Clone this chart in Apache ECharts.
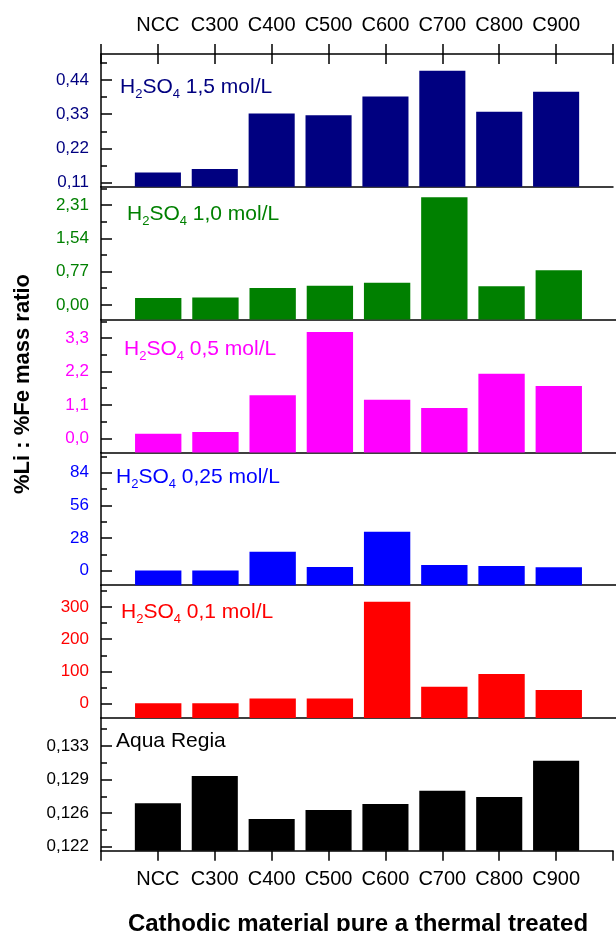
<!DOCTYPE html>
<html>
<head>
<meta charset="utf-8">
<script src="https://cdn.jsdelivr.net/npm/echarts@6/dist/echarts.min.js"></script>
<style>
html,body{margin:0;padding:0;background:#fff;}
#chart{width:616px;height:931px;}
</style>
</head>
<body>
<div id="chart"></div>
<script>
// ---- data ----
const categories = ['NCC', 'C300', 'C400', 'C500', 'C600', 'C700', 'C800', 'C900'];

const h2so4_15 = [0.143, 0.154, 0.332, 0.327, 0.387, 0.470, 0.338, 0.402];
const h2so4_10 = [0.16, 0.17, 0.39, 0.44, 0.51, 2.49, 0.43, 0.80];
const h2so4_05 = [0.15, 0.21, 1.42, 3.50, 1.27, 1.00, 2.13, 1.72];
const h2so4_025 = [0.2, 0.3, 16.3, 3.2, 33.4, 4.9, 4.0, 2.9];
const h2so4_01 = [1, 1, 15.7, 15.7, 316.6, 52, 92, 41.7];
const aquaRegia = [0.12674, 0.12973, 0.12503, 0.12601, 0.12667, 0.12812, 0.12743, 0.13140];

// tick labels (major) and minor ticks per panel
const ticks15 = [0.11, 0.22, 0.33, 0.44];
const minor15 = [0.165, 0.275, 0.385, 0.495];
const ticks10 = [0, 0.77, 1.54, 2.31];
const minor10 = [0.385, 1.155, 1.925, 2.695];
const ticks05 = [0, 1.1, 2.2, 3.3];
const minor05 = [0.55, 1.65, 2.75, 3.85];
const ticks025 = [0, 28, 56, 84];
const minor025 = [14, 42, 70, 98];
const ticks01 = [0, 100, 200, 300];
const minor01 = [50, 150, 250, 350];
const ticksAR = [0.122, 0.122 + 0.011 / 3, 0.122 + 0.022 / 3, 0.133];
const minorAR = [0.122 + 0.011 / 6, 0.122 + 0.011 / 2, 0.122 + 0.055 / 6, 0.133 + 0.011 / 6];

const yTitle = '%Li : %Fe mass ratio';
const xTitle = 'Cathodic material pure a thermal treated';

// ---- panel styling ----
const FONT = "'Liberation Sans', Arial, sans-serif";
const panels = [
  {vals: h2so4_15, ticks: ticks15, minor: minor15, min: 0.0968, max: 0.5235, dec: 2, color: '#000080', labelColor: '#000080', sub: ['H', '2', 'SO', '4', ' 1,5 mol/L'], tx: 120, ty: 77},
  {vals: h2so4_10, ticks: ticks10, minor: minor10, min: -0.34, max: 2.73, dec: 2, color: '#008000', labelColor: '#008000', sub: ['H', '2', 'SO', '4', ' 1,0 mol/L'], tx: 127, ty: 203.5},
  {vals: h2so4_05, ticks: ticks05, minor: minor05, min: -0.465, max: 3.91, dec: 1, color: '#FF00FF', labelColor: '#FF00FF', sub: ['H', '2', 'SO', '4', ' 0,5 mol/L'], tx: 124, ty: 338.5},
  {vals: h2so4_025, ticks: ticks025, minor: minor025, min: -12.4, max: 101.4, dec: 0, color: '#0000FF', labelColor: '#0000FF', sub: ['H', '2', 'SO', '4', ' 0,25 mol/L'], tx: 116, ty: 467},
  {vals: h2so4_01, ticks: ticks01, minor: minor01, min: -45, max: 368, dec: 0, color: '#FF0000', labelColor: '#FF0000', sub: ['H', '2', 'SO', '4', ' 0,1 mol/L'], tx: 121, ty: 602},
  {vals: aquaRegia, ticks: ticksAR, minor: minorAR, min: 0.12155, max: 0.13606, dec: 3, color: '#000000', labelColor: '#000000', sub: ['Aqua Regia'], tx: 116, ty: 730.5}
];

const GRID_TOP = 54, GRID_H = 132.8, GRID_LEFT = 101, GRID_W = 522;
const cats10 = [''].concat(categories, ['']);
const pad = arr => [null].concat(arr, [null]);
const AX = {color: '#000', width: 1.5};

const grid = [], xAxis = [], yAxis = [], series = [], graphic = [];

panels.forEach((p, i) => {
  grid.push({left: GRID_LEFT, width: GRID_W, top: GRID_TOP + i * GRID_H, height: GRID_H});
  const last = i === panels.length - 1;
  xAxis.push({
    gridIndex: i, type: 'category', data: cats10, boundaryGap: false, position: 'bottom',
    axisLine: {show: true, onZero: false, lineStyle: AX},
    axisTick: {show: last, interval: 0, length: 10, lineStyle: AX},
    axisLabel: {show: last, interval: 0, margin: 19, fontSize: 20, fontFamily: FONT, color: '#000'},
    splitLine: {show: false}
  });
  const fmt = v => Number(v).toFixed(p.dec).replace('.', ',');
  yAxis.push({
    gridIndex: i, type: 'value', min: p.min, max: p.max, position: 'left',
    axisLine: {show: true, onZero: false, lineStyle: AX},
    axisTick: {show: true, inside: true, length: 11, customValues: p.ticks, lineStyle: AX},
    axisLabel: {show: true, customValues: p.ticks, formatter: fmt, margin: 12, fontSize: 17, fontFamily: FONT, color: p.labelColor},
    splitLine: {show: false}
  });
  yAxis.push({
    gridIndex: i, type: 'value', min: p.min, max: p.max, position: 'left',
    axisLine: {show: false},
    axisTick: {show: true, inside: true, length: 6, customValues: p.minor, lineStyle: AX},
    axisLabel: {show: false},
    splitLine: {show: false}
  });
  if (p.min < 0) {
    // Origin-style baseline: invisible base up to the axis bottom, visible bar stacked from there
    series.push({
      type: 'bar', xAxisIndex: i, yAxisIndex: 2 * i, data: pad(p.vals.map(() => p.min)), barWidth: '81%',
      stack: 's' + i, stackStrategy: 'all', itemStyle: {color: 'rgba(0,0,0,0)'}, clip: true, silent: true
    });
    series.push({
      type: 'bar', xAxisIndex: i, yAxisIndex: 2 * i, data: pad(p.vals.map(v => v - p.min)), barWidth: '81%',
      stack: 's' + i, stackStrategy: 'all', itemStyle: {color: p.color}, clip: true, silent: true
    });
  } else {
    series.push({
      type: 'bar', xAxisIndex: i, yAxisIndex: 2 * i, data: pad(p.vals), barWidth: '81%',
      itemStyle: {color: p.color}, clip: true, silent: true
    });
  }
  // panel annotation
  let txt = '';
  p.sub.forEach((s, k) => { txt += (k % 2 === 1 ? '{s|' : '{n|') + s + '}'; });
  graphic.push({
    type: 'text', x: p.tx, y: p.ty, silent: true,
    style: {
      text: txt, align: 'left', verticalAlign: 'top',
      rich: {
        n: {fontSize: 21, fontFamily: FONT, fill: p.color, lineHeight: 24, verticalAlign: 'top'},
        s: {fontSize: 13, fontFamily: FONT, fill: p.color, lineHeight: 13, padding: [14, 0, 0, 0], verticalAlign: 'bottom'}
      }
    }
  });
});

// top category axis (labels + crossing ticks)
xAxis.push({
  gridIndex: 0, type: 'category', data: cats10, boundaryGap: false, position: 'top',
  axisLine: {show: true, onZero: false, lineStyle: AX},
  axisTick: {show: true, interval: 0, length: 10, lineStyle: AX},
  axisLabel: {show: true, interval: 0, margin: 19, fontSize: 20, fontFamily: FONT, color: '#000'},
  splitLine: {show: false}
});
xAxis.push({
  gridIndex: 0, type: 'category', data: cats10, boundaryGap: false, position: 'top',
  axisLine: {show: false, onZero: false},
  axisTick: {show: true, inside: true, interval: 0, length: 10, lineStyle: AX},
  axisLabel: {show: false},
  splitLine: {show: false}
});

graphic.push({
  type: 'text', x: 23, y: 384, rotation: Math.PI / 2, silent: true,
  style: {text: yTitle, font: 'bold 22px ' + FONT, fill: '#000', align: 'center', verticalAlign: 'middle'}
});
graphic.push({
  type: 'text', x: 358, y: 924.5, silent: true,
  style: {text: xTitle, font: 'bold 24px ' + FONT, fill: '#000', align: 'center', verticalAlign: 'middle'}
});

const chart = echarts.init(document.getElementById('chart'), null, {renderer: 'canvas'});
chart.setOption({
  animation: false,
  backgroundColor: '#fff',
  grid, xAxis, yAxis, series, graphic
});
</script>
</body>
</html>
